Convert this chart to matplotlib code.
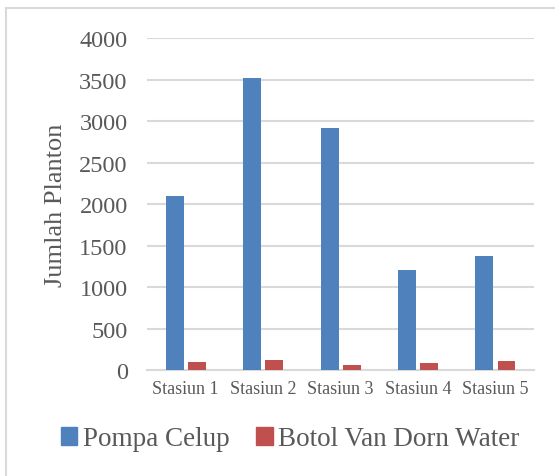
import matplotlib
matplotlib.use("Agg")
import matplotlib.pyplot as plt
from matplotlib.lines import Line2D
from matplotlib.patches import Patch
import numpy as np

stasiun = ["Stasiun 1", "Stasiun 2", "Stasiun 3", "Stasiun 4", "Stasiun 5"]
pompa_celup = [2100, 3520, 2910, 1200, 1370]
botol_van_dorn = [100, 120, 65, 85, 105]
yticks = [0, 500, 1000, 1500, 2000, 2500, 3000, 3500, 4000]

blue = "#4F81BD"
red = "#C0504D"
grey_txt = "#595959"
grid_c = "#D9D9D9"

plt.rcParams['font.family'] = ['Liberation Serif', 'DejaVu Serif']

fig = plt.figure(figsize=(5.55, 4.77), dpi=100)
ax = fig.add_axes([0.265, 0.2222, 0.697, 0.696])

x = np.arange(len(stasiun))
w = 0.23
ax.bar(x - 0.14, pompa_celup, width=w, color=blue, zorder=3)
ax.bar(x + 0.145, botol_van_dorn, width=w, color=red, zorder=3)

ax.set_xlim(-0.5, len(stasiun) - 0.5)
ax.set_ylim(0, 4000)
ax.set_yticks(yticks)
ax.set_yticklabels([str(v) for v in yticks], fontsize=17.5, color=grey_txt)
ax.set_xticks(x)
ax.set_xticklabels(stasiun, fontsize=13, color=grey_txt)
ax.tick_params(axis='y', length=0, pad=14)
ax.tick_params(axis='x', length=0, pad=7)
ax.yaxis.grid(True, color=grid_c, linewidth=1.5, zorder=0)
for s in ['top', 'right', 'left']:
    ax.spines[s].set_visible(False)
ax.spines['bottom'].set_color(grid_c)
ax.spines['bottom'].set_linewidth(1.5)

fig.text(56 / 555, 0.570, "Jumlah Planton", rotation=90, fontsize=19,
         color=grey_txt, ha='center', va='center')

handles = [Patch(color=blue), Patch(color=red)]
leg = fig.legend(handles, ["Pompa Celup", "Botol Van Dorn Water"],
                 loc='center', bbox_to_anchor=(0.523, 1 - 440 / 477), ncol=2,
                 frameon=False, fontsize=19.5, handlelength=0.6, handleheight=0.6,
                 handletextpad=0.2, columnspacing=1.0, labelcolor=grey_txt)

# chart border (left and top visible)
fig.add_artist(Line2D([6 / 555, 6 / 555], [0, 1 - 9 / 477], color=grid_c, lw=1.5,
                      transform=fig.transFigure))
fig.add_artist(Line2D([6 / 555, 1], [1 - 9 / 477, 1 - 9 / 477], color=grid_c, lw=1.5,
                      transform=fig.transFigure))

fig.savefig("out.png", dpi=100)
